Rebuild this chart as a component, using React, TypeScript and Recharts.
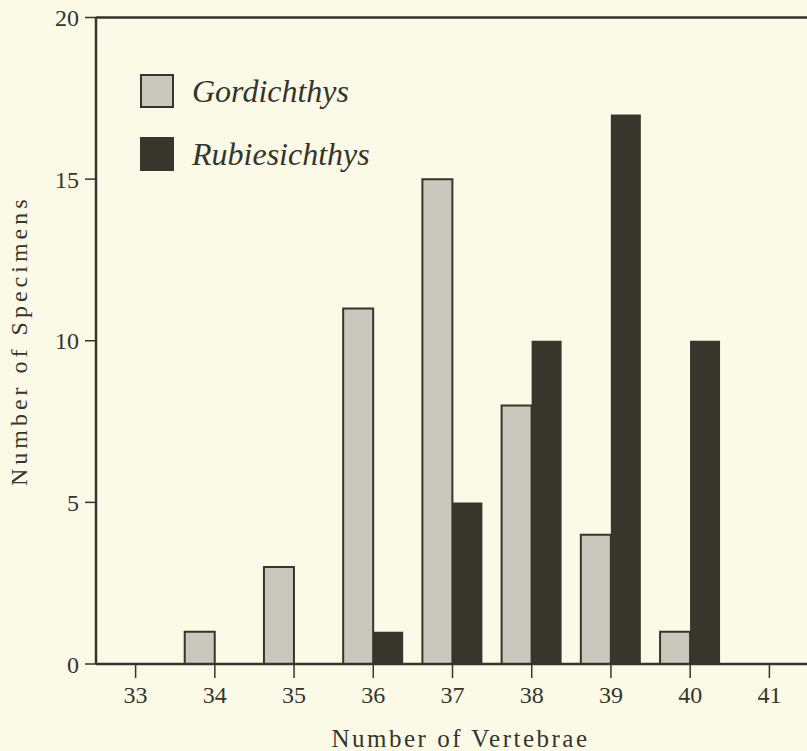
import React from "react";
import { Bar, BarChart, ReferenceLine, XAxis, YAxis } from "recharts";

const vertebrae = ["33", "34", "35", "36", "37", "38", "39", "40", "41"];
const gordichthys = [0, 1, 3, 11, 15, 8, 4, 1, 0];
const rubiesichthys = [0, 0, 0, 1, 5, 10, 17, 10, 0];
const yTicks = [0, 5, 10, 15, 20];

const data = vertebrae.map((v, i) => ({
  vertebrae: v,
  gordichthys: gordichthys[i],
  rubiesichthys: rubiesichthys[i],
}));

const INK = "#35352e";
const GREY = "#c8c8bc";
const DARK = "#36362d";
const FONT = "'Liberation Serif', 'DejaVu Serif', serif";

// legend sits inside the plot, drawn as plain html over the chart
const LegendBox = () => (
  <div
    style={{
      position: "absolute",
      left: 140,
      top: 74,
      fontFamily: FONT,
      color: INK,
    }}
  >
    {[
      { name: "Gordichthys", fill: GREY, border: INK },
      { name: "Rubiesichthys", fill: DARK, border: DARK },
    ].map((item, i) => (
      <div
        key={item.name}
        style={{
          display: "flex",
          alignItems: "center",
          height: 34,
          marginBottom: i === 0 ? 29 : 0,
        }}
      >
        <div
          style={{
            width: 34,
            height: 34,
            boxSizing: "border-box",
            background: item.fill,
            border: `2.5px solid ${item.border}`,
          }}
        />
        <span
          style={{
            marginLeft: 18,
            fontSize: 32,
            fontStyle: "italic",
            lineHeight: "34px",
          }}
        >
          {item.name}
        </span>
      </div>
    ))}
  </div>
);

const App = () => {
  const tickStyle = { fontFamily: FONT, fontSize: 24, fill: INK };

  return (
    <div
      style={{
        position: "fixed",
        left: 0,
        top: 0,
        width: 807,
        height: 751,
        overflow: "hidden",
        background: "#fbfae6",
      }}
    >
      <BarChart
        width={809}
        height={751}
        data={data}
        margin={{ top: 17.5, right: 0, bottom: 0, left: 0 }}
        barGap={0}
        barCategoryGap="12%"
      >
        <XAxis
          dataKey="vertebrae"
          height={87}
          tickSize={14}
          tickMargin={8}
          tick={tickStyle}
          axisLine={{ stroke: INK, strokeWidth: 2.5 }}
          tickLine={{ stroke: INK, strokeWidth: 1.5 }}
          label={{
            value: "Number of Vertebrae",
            position: "insideBottom",
            offset: 4,
            dx: 8,
            style: {
              fontFamily: FONT,
              fontSize: 25,
              letterSpacing: 2.5,
              fill: INK,
            },
          }}
        />
        <YAxis
          width={96}
          domain={[0, 20]}
          ticks={yTicks}
          tickSize={11}
          tickMargin={6}
          tick={tickStyle}
          axisLine={{ stroke: INK, strokeWidth: 2.5 }}
          tickLine={{ stroke: INK, strokeWidth: 1.5 }}
          label={{
            value: "Number of Specimens",
            angle: -90,
            position: "center",
            dx: -30,
            style: {
              fontFamily: FONT,
              fontSize: 24,
              letterSpacing: 4,
              fill: INK,
              textAnchor: "middle",
            },
          }}
        />
        <ReferenceLine y={20} stroke={INK} strokeWidth={2.5} />
        <Bar
          dataKey="gordichthys"
          name="Gordichthys"
          fill={GREY}
          stroke={INK}
          strokeWidth={2}
          isAnimationActive={false}
        />
        <Bar
          dataKey="rubiesichthys"
          name="Rubiesichthys"
          fill={DARK}
          isAnimationActive={false}
        />
      </BarChart>
      <LegendBox />
    </div>
  );
};

export default App;
